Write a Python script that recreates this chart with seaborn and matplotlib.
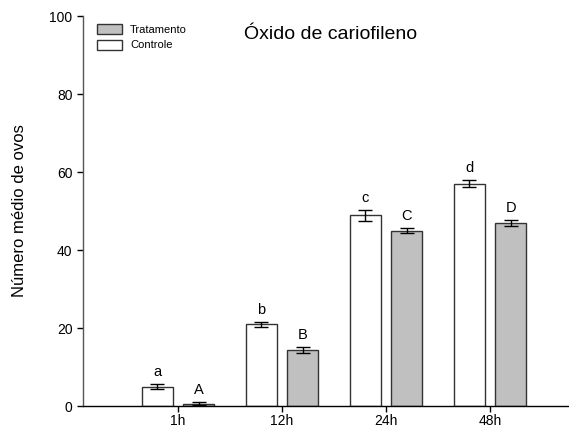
import matplotlib
matplotlib.use("Agg")
import matplotlib.pyplot as plt
import seaborn as sns
import pandas as pd
from matplotlib.patches import Patch

categories = ["1h", "12h", "24h", "48h"]
controle = [5.0, 20.9, 48.9, 57.0]
controle_err = [0.7, 0.6, 1.4, 0.85]
tratamento = [0.6, 14.3, 45.0, 46.9]
tratamento_err = [0.3, 0.8, 0.7, 0.7]
controle_letters = ["a", "b", "c", "d"]
tratamento_letters = ["A", "B", "C", "D"]
yticks = [0, 20, 40, 60, 80, 100]

sns.set_style("white")
plt.rcParams["font.family"] = ["Liberation Sans", "DejaVu Sans"]
plt.rcParams["text.color"] = "black"
plt.rcParams["axes.labelcolor"] = "black"
plt.rcParams["xtick.color"] = "black"
plt.rcParams["ytick.color"] = "black"

df = pd.DataFrame({
    "tempo": categories * 2,
    "grupo": ["Controle"] * 4 + ["Tratamento"] * 4,
    "valor": controle + tratamento,
})

fig = plt.figure(figsize=(5.69, 4.28), dpi=100)
ax = fig.add_axes([83 / 569, 22 / 428, 486 / 569, 390 / 428])

palette = {"Controle": "white", "Tratamento": "#c0c0c0"}
sns.barplot(data=df, x="tempo", y="valor", hue="grupo", order=categories,
            hue_order=["Controle", "Tratamento"], palette=palette,
            width=0.8, gap=0.25, errorbar=None, edgecolor="#333333",
            linewidth=1.0, legend=False, ax=ax)

bars = [p for p in ax.patches]
vals = controle + tratamento
errs = controle_err + tratamento_err
letters = controle_letters + tratamento_letters
for p, v, e, t in zip(bars, vals, errs, letters):
    cx = p.get_x() + p.get_width() / 2
    ax.errorbar(cx, v, yerr=e, fmt="none", ecolor="black", elinewidth=1.0,
                capsize=5, capthick=1.0, zorder=5)
    ax.text(cx, v + e + 1.3, t, ha="center", va="bottom", fontsize=10.5)

ax.set_xlim(-0.913, 3.76)
ax.set_ylim(0, 100)
ax.set_yticks(yticks)
ax.set_ylabel("Número médio de ovos", fontsize=12, labelpad=16)
ax.set_xlabel("")
sns.despine(ax=ax, top=True, right=True)
ax.spines["left"].set_color("#555555")
ax.spines["left"].set_linewidth(1.0)
ax.spines["bottom"].set_color("black")
ax.spines["bottom"].set_linewidth(1.0)
ax.tick_params(axis="both", direction="out", length=4, width=1, labelsize=10,
               colors="black", left=True, bottom=True)
ax.tick_params(axis="x", pad=2)

ax.text(0.51, 0.952, "Óxido de cariofileno", transform=ax.transAxes,
        ha="center", va="center", fontsize=14)

handles = [Patch(facecolor="#c0c0c0", edgecolor="#333333", label="Tratamento"),
           Patch(facecolor="white", edgecolor="#333333", label="Controle")]
ax.legend(handles=handles, loc="upper left", bbox_to_anchor=(0.012, 1.0),
          frameon=False, fontsize=8, handlelength=2.3, handleheight=1.0,
          handletextpad=0.7, labelspacing=0.45, borderaxespad=0.3)

fig.savefig("out.png", dpi=100)
